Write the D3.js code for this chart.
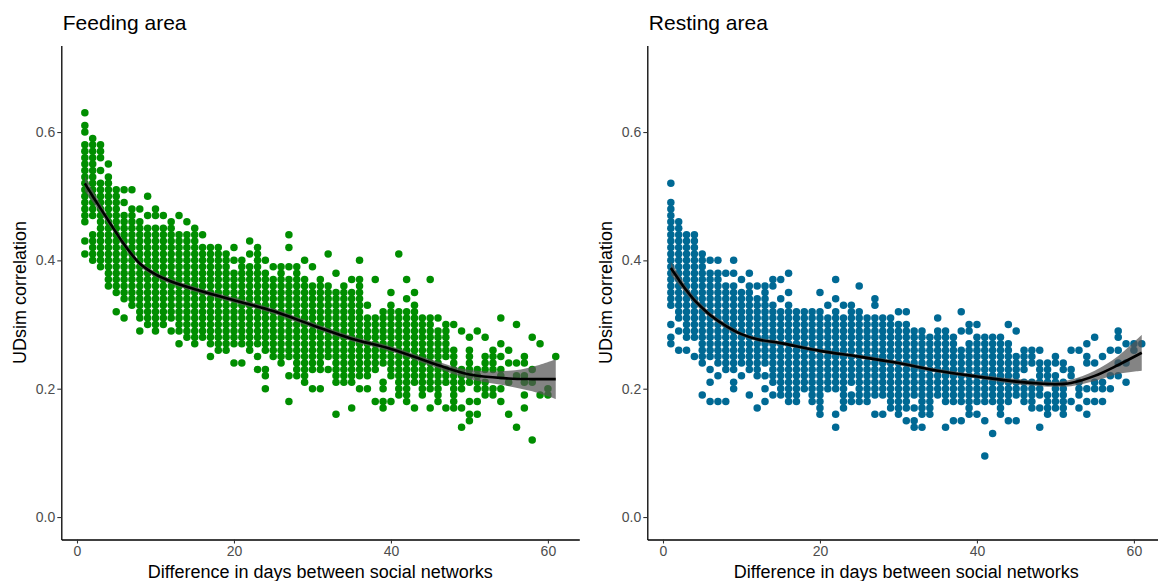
<!DOCTYPE html>
<meta charset="utf-8">
<title>UDsim correlation vs difference in days</title>
<script src="https://d3js.org/d3.v7.min.js"></script>
<style>
  body { margin: 0; background: #fff; }
  svg { display: block; font-family: "Liberation Sans", Arial, sans-serif; }
</style>
<body>
<div id="viz"></div>
<script>
// UDsim correlation values (x100), one list per day difference (index 0 = day 1)
const feeding = [
  [63,61,60,58,57,56,55,54,53,52,51,50,49,48,47,46,43,41],
  [59,58,57,56,55,54,53,52,51,50,49,48,47,44,43,42,41,40],
  [58,57,56,54,52,51,50,49,48,47,46,45,44,43,42,41,40,39],
  [55,53,52,51,50,49,48,47,46,45,44,43,42,41,40,39,38,37,36],
  [51,50,49,48,47,46,45,44,43,42,41,40,39,38,37,36,35,32],
  [51,49,47,46,45,44,43,42,41,40,39,38,37,36,35,34,31],
  [51,48,47,46,45,44,43,42,41,40,39,38,37,36,35,34,33],
  [48,46,45,44,43,42,41,40,39,38,37,36,35,34,33,32,31,29],
  [50,47,45,44,43,42,41,40,39,38,37,36,35,34,33,32,31,30],
  [48,47,45,44,43,42,41,40,39,38,37,36,35,34,33,32,31,30,29],
  [47,45,44,43,42,41,40,39,38,37,36,35,34,33,32,31,30],
  [46,45,44,43,42,41,40,39,38,37,36,35,34,33,32,31,29],
  [47,44,43,42,41,40,39,38,37,36,35,34,33,32,31,30,29,27],
  [46,44,43,42,41,40,39,38,37,36,35,34,33,32,31,30,29,28],
  [45,44,43,42,41,40,39,38,37,36,35,34,33,32,31,30,29,28,27],
  [44,42,41,40,39,38,37,36,35,34,33,32,31,30,29,28],
  [42,41,40,39,38,37,36,35,34,33,32,31,30,29,28,27,25],
  [42,41,40,39,38,37,36,35,34,33,32,31,30,29,28,27,26],
  [41,40,39,38,37,36,35,34,33,32,31,30,29,28,27,26],
  [42,40,38,37,36,35,34,33,32,31,30,29,28,27,24],
  [40,39,38,37,36,35,34,33,32,31,30,29,28,27,24],
  [43,41,39,38,37,36,35,34,33,32,31,30,29,28,27,26],
  [42,41,40,39,38,37,36,35,34,33,32,31,30,29,28,27,25,23],
  [40,38,37,36,35,34,33,32,31,30,29,28,27,26,23,22,20],
  [39,37,36,35,34,33,32,31,30,29,28,27,26,25],
  [39,38,37,36,35,34,33,32,31,30,29,28,27,26,25,24],
  [44,42,39,37,36,35,34,33,32,31,30,29,28,27,26,25,22,18],
  [39,38,37,36,35,34,33,32,31,30,29,28,27,26,25,24,23,22],
  [40,37,36,35,34,33,32,31,30,29,28,27,26,25,24,23,22,21],
  [39,36,35,34,33,32,31,30,29,28,27,26,25,24,23,20],
  [37,36,35,34,33,32,31,30,29,28,27,26,25,24,23,20],
  [41,36,35,34,33,32,31,30,29,28,27,26,25,23],
  [38,35,34,33,32,31,30,29,28,27,26,25,24,23,22,21,16],
  [36,35,34,33,32,31,30,29,28,27,26,25,24,23,22,21],
  [37,35,34,33,32,31,30,29,28,27,26,25,24,23,22,21,17],
  [40,37,36,35,34,33,32,31,30,29,28,27,26,25,24,23,22,20],
  [33,31,30,29,28,27,26,25,24,23,22,20],
  [37,31,30,29,28,27,26,25,24,23,18],
  [32,31,30,29,28,27,26,25,24,21,20,18,17],
  [35,33,32,31,30,29,28,27,26,25,24,23,22,18],
  [41,32,31,30,29,28,27,26,25,24,23,22,21,20,19],
  [37,34,32,31,30,29,28,27,26,25,24,23,22,21,20,19,18],
  [35,33,32,31,30,29,28,27,26,25,24,23,22,21,17],
  [31,30,29,28,27,26,25,24,23,22,21,20,19],
  [37,31,30,29,28,27,26,25,24,23,22,21,20,17],
  [31,29,28,27,26,25,24,23,22,21,20,19,18],
  [30,29,28,27,26,25,23,22,21,17],
  [30,26,25,24,23,22,21,20,19,18,17],
  [29,23,22,21,20,17,14],
  [28,26,25,24,23,22,21,18,16,15],
  [29,23,22,21,20,18,16],
  [28,25,24,23,21,20,19],
  [26,25,24,23,20,19],
  [31,27,25,23,22,20,18],
  [26,24,21,16],
  [30,24,22,14],
  [25,24,22,21,19,17],
  [28,23,21,12],
  [27,19],
  [20,19],
  [25]
];

const resting = [
  [52,49,48,47,46,45,44,43,42,41,40,39,38,37,36,35,34,33,30,28,27],
  [46,45,44,43,42,41,40,39,38,37,36,35,34,33,32,31,29,26],
  [44,43,42,41,40,39,38,37,36,35,34,33,32,31,30,29,28,26],
  [44,43,42,41,40,39,38,37,36,35,34,33,32,31,30,29,28,25],
  [41,40,39,38,37,36,35,34,33,32,31,30,29,28,27,26,25,24,19],
  [40,38,37,36,35,34,33,32,31,30,29,28,27,26,25,23,21,18],
  [40,38,37,36,35,34,33,32,31,30,29,28,27,26,25,24,22,18],
  [38,36,35,34,33,32,31,30,29,28,27,26,25,24,23,18],
  [40,38,36,35,34,33,32,31,30,29,28,27,26,25,24,23,21,20],
  [37,35,34,33,32,31,30,29,28,27,26,25,24,22],
  [38,36,35,34,33,32,31,30,29,28,27,26,25,24,23,19],
  [36,34,33,32,31,30,29,28,27,26,25,24,23,22,17],
  [36,35,34,33,32,31,30,29,28,27,26,25,24,22,20,18],
  [37,36,33,32,31,30,29,28,27,26,25,24,23,22,21,19],
  [37,34,32,31,30,29,28,27,26,25,24,23,22,21,20,19],
  [38,35,33,32,31,30,29,28,27,26,25,24,23,22,21,20,19,18],
  [32,31,30,29,28,27,26,25,24,23,22,21,20,19,18],
  [32,31,30,29,28,27,26,25,24,23,22,21,20],
  [32,31,30,29,28,27,26,25,24,23,22,21,20,19,18],
  [35,32,31,30,29,28,27,26,25,24,23,22,21,20,19,18,17,16],
  [33,31,30,29,28,27,26,25,24,23,22,21,20],
  [37,34,32,31,30,29,28,27,26,25,24,23,22,21,20,16,14],
  [33,31,30,29,28,27,26,25,24,23,22,21,20,19,18,17],
  [33,32,31,30,29,28,27,26,25,24,23,22,21,19,18],
  [36,32,31,30,29,28,27,26,25,24,23,22,21,20,19,18],
  [31,30,29,28,27,26,25,24,23,22,21,20,19,18],
  [34,33,31,30,29,28,27,26,25,24,23,22,21,20,19,16],
  [31,30,29,28,27,26,25,24,23,22,21,20,19,16],
  [31,30,29,28,27,26,25,24,23,22,21,20,19,18,17],
  [32,30,29,28,27,26,25,24,23,22,21,20,19,18,17,16],
  [32,30,29,28,27,26,25,24,23,22,21,20,19,18,17,15],
  [29,28,27,26,25,24,23,22,21,20,19,17,15,14],
  [29,28,27,26,25,24,23,22,21,20,19,18,17,16,14],
  [28,27,26,25,24,23,22,21,20,19,18,17,16],
  [31,29,28,27,26,25,24,23,22,21,20,19],
  [29,28,27,26,25,24,23,22,21,20,19,18,14],
  [28,27,26,25,24,23,22,21,20,19,18,15],
  [32,29,26,25,24,23,22,21,20,19,18,15],
  [30,29,27,26,25,24,23,22,21,20,19,18,17,16],
  [30,28,27,26,25,24,23,22,21,20,19,18,16],
  [28,27,26,25,24,23,22,21,20,19,18,15,9.5],
  [28,27,26,25,24,23,22,21,20,19,18,13],
  [28,27,26,25,24,23,22,21,20,19,18,17,16],
  [30,27,26,25,24,23,22,21,20,19,18,15],
  [29,25,24,23,22,21,20,19,15],
  [26,25,24,23,21,20,19,18],
  [26,25,24,21,20,19,18,17],
  [26,24,23,22,21,20,19,17,14],
  [24,23,22,21,19,18,17,16],
  [25,24,22,21,20,19,18,17],
  [24,23,21,20,19,18,17,16],
  [26,23,22,18],
  [26,21,20,19,17],
  [27,25,24,20,18,16],
  [28,24,21,20,18],
  [25,21,20,18],
  [26,22,20],
  [29,28,26,24,22],
  [27,24,21],
  [27,26],
  [27]
];

// smoothed fit with its confidence half-width
const feedFitDays = [1,2,3,4,5,6,8,10,12,15,20,25,30,35,40,45,50,55,58,61];
const feedFit = [.520,.500,.481,.462,.443,.425,.395,.378,.367,.355,.338,.321,.299,.278,.262,.241,.222,.216,.215,.215];
const feedSe = [.012,.009,.007,.006,.005,.005,.004,.004,.004,.004,.004,.004,.004,.004,.004,.005,.007,.012,.019,.031];

const restFitDays = [1,2,3,4,5,6,8,10,12,15,20,25,30,35,40,45,48,50,52,55,58,61];
const restFit = [.388,.370,.353,.338,.326,.315,.298,.285,.277,.271,.259,.250,.240,.228,.219,.211,.208,.207,.209,.220,.237,.256];
const restSe = [.010,.008,.006,.005,.005,.004,.004,.003,.003,.003,.003,.003,.003,.003,.003,.004,.004,.004,.005,.008,.014,.028];

const xTicks = [0, 20, 40, 60];
const yTicks = [0, 0.2, 0.4, 0.6];

const width = 1158, height = 581;

const svg = d3.select("#viz").append("svg")
  .attr("width", width)
  .attr("height", height)
  .attr("viewBox", [0, 0, width, height]);

const y = d3.scaleLinear().domain([-0.035, 0.735]).range([539.5, 45.4]);
const curve = d3.curveCatmullRom.alpha(0.5);

function panel(opts) {
  const x = d3.scaleLinear().domain([-2, 64]).range([opts.x0, opts.x0 + 518]);
  const g = svg.append("g");

  const pts = opts.values.flatMap((ys, i) => ys.map(v => ({day: i + 1, v: v / 100})));
  g.append("g")
    .selectAll("circle")
    .data(pts)
    .join("circle")
    .attr("cx", d => x(d.day))
    .attr("cy", d => y(d.v))
    .attr("r", 3.75)
    .attr("fill", opts.color);

  const fit = opts.days.map((d, i) => ({day: d, fit: opts.fit[i], se: opts.se[i]}));
  g.append("path")
    .datum(fit)
    .attr("d", d3.area()
      .curve(curve)
      .x(d => x(d.day))
      .y0(d => y(d.fit - d.se))
      .y1(d => y(d.fit + d.se)))
    .attr("fill", "#555")
    .attr("fill-opacity", 0.72);

  g.append("path")
    .datum(fit)
    .attr("d", d3.line()
      .curve(curve)
      .x(d => x(d.day))
      .y(d => y(d.fit)))
    .attr("fill", "none")
    .attr("stroke", "#000")
    .attr("stroke-width", 2.6);

  const yAxis = g.append("g")
    .attr("transform", `translate(${opts.x0},0)`)
    .call(d3.axisLeft(y).tickValues(yTicks).tickFormat(d3.format(".1f")).tickSize(4).tickSizeOuter(0).tickPadding(2));
  const xAxis = g.append("g")
    .attr("transform", `translate(0,${y.range()[0]})`)
    .call(d3.axisBottom(x).tickValues(xTicks).tickSize(4).tickSizeOuter(0).tickPadding(3));

  [yAxis, xAxis].forEach(a => {
    a.select(".domain").attr("stroke", "#000").attr("stroke-width", 1.3);
    a.selectAll(".tick line").attr("stroke", "#333").attr("stroke-width", 1.1);
    a.selectAll(".tick text")
      .attr("fill", "#4d4d4d")
      .style("font-size", "14px")
      .style("font-family", "Liberation Sans, Arial, sans-serif");
  });

  g.append("text")
    .attr("x", opts.x0 + 1.5)
    .attr("y", 30)
    .style("font-size", "21px")
    .attr("fill", "#000")
    .text(opts.title);

  g.append("text")
    .attr("transform", `translate(${opts.x0 - 35},${(y.range()[0] + y.range()[1]) / 2}) rotate(-90)`)
    .attr("text-anchor", "middle")
    .style("font-size", "18px")
    .attr("fill", "#000")
    .text("UDsim correlation");

  g.append("text")
    .attr("x", (x.range()[0] + x.range()[1]) / 2)
    .attr("y", 578)
    .attr("text-anchor", "middle")
    .style("font-size", "18px")
    .attr("fill", "#000")
    .text("Difference in days between social networks");
}

panel({x0: 61.3, values: feeding, color: "#008e00", days: feedFitDays, fit: feedFit, se: feedSe, title: "Feeding area"});
panel({x0: 647.3, values: resting, color: "#006994", days: restFitDays, fit: restFit, se: restSe, title: "Resting area"});
</script>
</body>
